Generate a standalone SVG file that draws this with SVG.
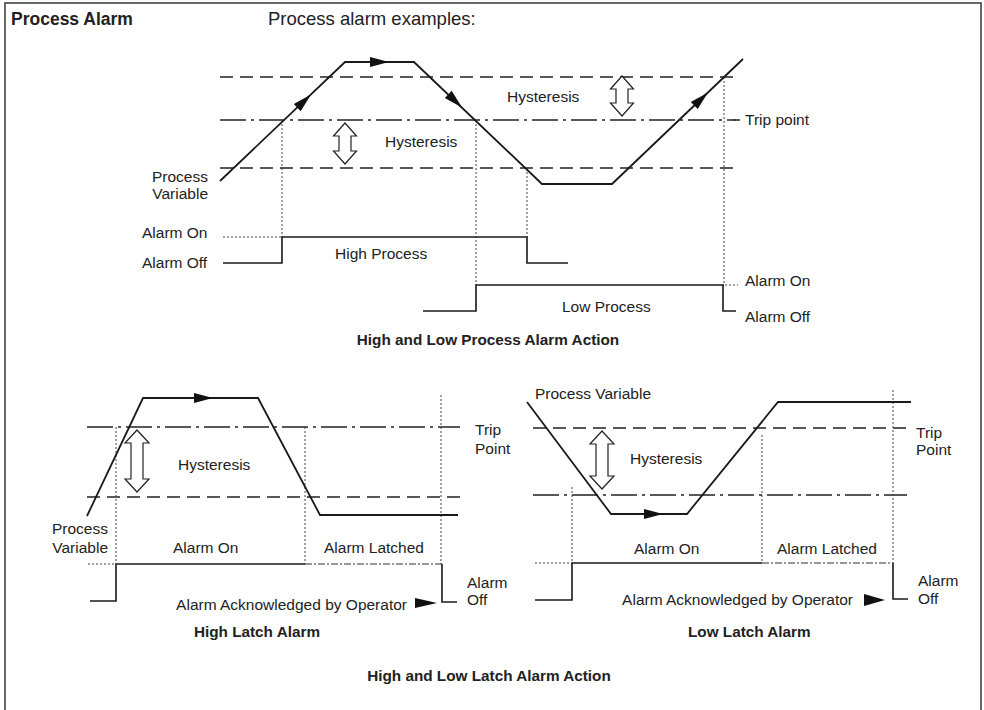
<svg xmlns="http://www.w3.org/2000/svg" width="984" height="710" viewBox="0 0 984 710">
<style>
text{font-family:"Liberation Sans",Arial,sans-serif;fill:#222;font-size:15.5px}
.b{font-weight:bold;font-size:15.3px}
.pv{fill:none;stroke:#1a1a1a;stroke-width:1.8;stroke-linejoin:miter}
.al{fill:none;stroke:#1a1a1a;stroke-width:1.6}
.dash{fill:none;stroke:#222;stroke-width:1.3;stroke-dasharray:13,7}
.dd{fill:none;stroke:#222;stroke-width:1.5;stroke-dasharray:26,5,3,5}
.dot{fill:none;stroke:#444;stroke-width:1;stroke-dasharray:2,2}
.ddf{fill:none;stroke:#333;stroke-width:1.2;stroke-dasharray:7,2,2,2}
.hol{fill:#fff;stroke:#222;stroke-width:1.2}
.ah{fill:#111}
</style>
<defs>
<polygon id="ah" points="0,0 -19,-5 -19,5" class="ah"/>
</defs>
<rect x="5" y="3" width="976" height="712" fill="none" stroke="#444" stroke-width="1.6"/>
<text class="b" x="11" y="25" style="font-size:17.5px">Process Alarm</text>
<text x="268" y="25" style="font-size:18.5px">Process alarm examples:</text>

<g id="top-chart">
  <line class="dash" x1="220" y1="77" x2="740" y2="77"/>
  <line class="dd" x1="220" y1="120" x2="740" y2="120"/>
  <line class="dash" x1="220" y1="168" x2="737" y2="168"/>
  <g id="top-dotted">
    <line class="dot" x1="282" y1="120" x2="282" y2="237"/>
    <line class="dot" x1="476" y1="120" x2="476" y2="285"/>
    <line class="dot" x1="527" y1="168" x2="527" y2="237"/>
    <line class="dot" x1="724" y1="77" x2="724" y2="285"/>
  </g>
  <polyline class="pv" points="220,181 345,62 414,62 542,184 612,184 743,59"/>
  <use href="#ah" transform="translate(311,94.5) rotate(-43.6)"/>
  <use href="#ah" transform="translate(389,62)"/>
  <use href="#ah" transform="translate(462,107.5) rotate(43.6)"/>
  <use href="#ah" transform="translate(708,92.4) rotate(-43.6)"/>
  <path class="hol" d="M345,123 L356.5,136 L351,136 L351,151 L356.5,151 L345,164 L333.5,151 L339,151 L339,136 L333.5,136 Z"/>
  <path class="hol" d="M622,76 L633.5,89 L628,89 L628,103 L633.5,103 L622,116 L610.5,103 L616,103 L616,89 L610.5,89 Z"/>
  <text x="385" y="147">Hysteresis</text>
  <text x="507" y="102">Hysteresis</text>
  <line x1="733" y1="120" x2="741" y2="120" stroke="#333" stroke-width="1.4" stroke-dasharray="3,5"/>
  <text x="745" y="125">Trip point</text>
  <text x="208" y="182" text-anchor="end">Process</text>
  <text x="208" y="199" text-anchor="end">Variable</text>
  <g id="high-process">
    <text x="142" y="238">Alarm On</text>
    <text x="142" y="268">Alarm Off</text>
    <line class="dot" x1="223" y1="237" x2="282" y2="237"/>
    <polyline class="al" points="223,263 282,263 282,237 527,237 527,263 568,263"/>
    <text x="335" y="259">High Process</text>
  </g>
  <g id="low-process">
    <polyline class="al" points="423,311 476,311 476,285 724,285"/>
    <polyline class="al" points="723,285 723,311 736,311"/>
    <line class="dot" x1="725" y1="285" x2="738" y2="285"/>
    <text x="745" y="286">Alarm On</text>
    <text x="745" y="322">Alarm Off</text>
    <text x="562" y="312">Low Process</text>
  </g>
  <text class="b" x="488" y="345" text-anchor="middle">High and Low Process Alarm Action</text>
</g>

<g id="high-latch">
  <line class="dd" x1="87" y1="427" x2="460" y2="427"/>
  <line class="dash" x1="87" y1="497" x2="460" y2="497"/>
  <line class="dot" x1="116" y1="427" x2="116" y2="564"/>
  <line class="dot" x1="305" y1="427" x2="305" y2="564"/>
  <line class="dot" x1="441" y1="395" x2="441" y2="564"/>
  <polyline class="pv" points="87,516 143,398 258,398 320,515 458,515"/>
  <use href="#ah" transform="translate(213,398)"/>
  <path class="hol" d="M137,430 L149,443 L143,443 L143,479 L149,479 L137,492 L125,479 L131,479 L131,443 L125,443 Z"/>
  <text x="178" y="470">Hysteresis</text>
  <text x="108" y="534" text-anchor="end">Process</text>
  <text x="108" y="553" text-anchor="end">Variable</text>
  <text x="475" y="435">Trip</text>
  <text x="475" y="454">Point</text>
  <text x="173" y="553">Alarm On</text>
  <text x="324" y="553">Alarm Latched</text>
  <line class="dot" x1="88" y1="564" x2="116" y2="564"/>
  <polyline class="al" points="90,601 116,601 116,564 305,564"/>
  <line class="ddf" x1="305" y1="564" x2="442" y2="564"/>
  <polyline class="al" points="442,564 442,602 457,602"/>
  <text x="467" y="588">Alarm</text>
  <text x="467" y="605">Off</text>
  <text x="407" y="610" text-anchor="end">Alarm Acknowledged by Operator</text>
  <polygon class="ah" points="415,598 437,603 415,608"/>
  <text class="b" x="320" y="637" text-anchor="end">High Latch Alarm</text>
</g>

<g id="low-latch">
  <line class="dash" x1="533" y1="428" x2="907" y2="428"/>
  <line class="dd" x1="533" y1="495" x2="907" y2="495"/>
  <line class="dot" x1="572" y1="487" x2="572" y2="563"/>
  <line class="dot" x1="762" y1="435" x2="762" y2="563"/>
  <line class="dot" x1="893" y1="390" x2="893" y2="563"/>
  <polyline class="pv" points="527,402 611,514 687,514 778,402 911,402"/>
  <use href="#ah" transform="translate(663,514)"/>
  <path class="hol" d="M602,431 L614,444 L608,444 L608,476 L614,476 L602,489 L590,476 L596,476 L596,444 L590,444 Z"/>
  <text x="535" y="399">Process Variable</text>
  <text x="630" y="464">Hysteresis</text>
  <text x="916" y="438">Trip</text>
  <text x="916" y="455">Point</text>
  <text x="634" y="554">Alarm On</text>
  <text x="777" y="554">Alarm Latched</text>
  <line class="dot" x1="535" y1="563" x2="572" y2="563"/>
  <polyline class="al" points="535,600 572,600 572,563 762,563"/>
  <line class="ddf" x1="762" y1="563" x2="893" y2="563"/>
  <polyline class="al" points="893,563 893,599 908,599"/>
  <text x="918" y="586">Alarm</text>
  <text x="918" y="604">Off</text>
  <text x="853" y="605" text-anchor="end">Alarm Acknowledged by Operator</text>
  <polygon class="ah" points="864,594 885,600 864,606"/>
  <text class="b" x="688" y="637">Low Latch Alarm</text>
</g>
<text class="b" x="489" y="681" text-anchor="middle">High and Low Latch Alarm Action</text>
</svg>
